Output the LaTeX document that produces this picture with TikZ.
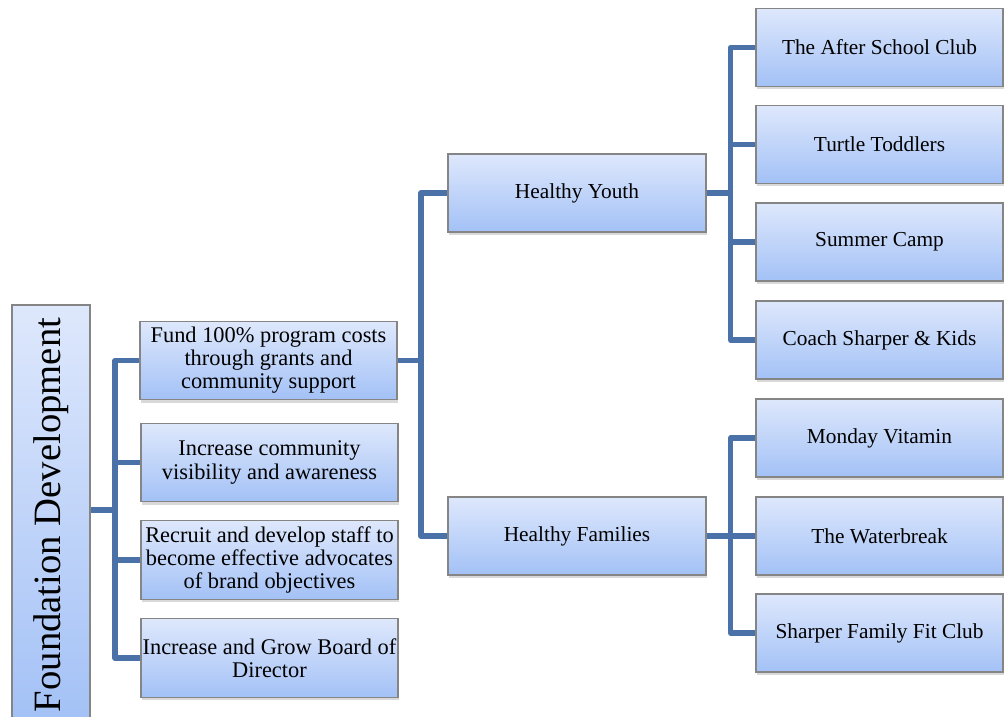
\documentclass[tikz,border=0pt]{standalone}
\usepackage{fontspec}
\setmainfont{Liberation Serif}
\usepackage{graphicx}
\usetikzlibrary{positioning, shadows}
\definecolor{linkblue}{HTML}{4A72A8}
\definecolor{boxtop}{HTML}{DEE8FC}
\definecolor{boxbottom}{HTML}{A3C1F6}
\definecolor{boxedge}{HTML}{858585}
\tikzset{
    box/.style={
        rectangle,
        draw=boxedge,
        line width=0.9pt,
        top color=boxtop,
        bottom color=boxbottom,
        drop shadow={shadow xshift=1pt, shadow yshift=-2.2pt, opacity=0.3},
        align=center,
        inner sep=0pt,
        font=\fontsize{16}{17.3}\selectfont
    },
    rootbox/.style={
        box,
        minimum width=58.5pt,
        minimum height=315pt,
        font=\fontsize{29}{30}\selectfont
    },
    goalbox/.style={
        box,
        minimum width=192.75pt,
        minimum height=59pt,
        font=\fontsize{16.8}{17.3}\selectfont
    },
    areabox/.style={
        box,
        minimum width=193.5pt,
        minimum height=58.5pt
    },
    programbox/.style={
        box,
        minimum width=185.25pt,
        minimum height=58.5pt
    },
    link/.style={
        line width=3.8pt,
        linkblue,
        line join=round
    }
}

\begin{document}
\begin{tikzpicture}[x=0.75pt, y=-0.75pt]

      \path[use as bounding box, clip] (0,0) rectangle (1006,717);

      % left column
      \node[rootbox] (root) at (51,515) {\rotatebox{90}{Foundation Development}};

      % goals
      \node[goalbox] (fund) at (268.5,360.5) {Fund 100\% program costs\\through grants and\\community support};
      \node[goalbox] (visibility) at (269.5,462.5) {Increase community\\visibility and awareness};
      \node[goalbox] (staff) at (269.5,560) {Recruit and develop staff to\\become effective advocates\\of brand objectives};
      \node[goalbox] (board) at (269.5,658) {Increase and Grow Board of\\Director};

      % focus areas
      \node[areabox] (youth) at (577,193) {Healthy Youth};
      \node[areabox] (families) at (577,536) {Healthy Families};

      % programs
      \node[programbox] (afterschool) at (879.5,47.5) {The After School Club};
      \node[programbox] (toddlers) at (879.5,144.5) {Turtle Toddlers};
      \node[programbox] (camp) at (879.5,242) {Summer Camp};
      \node[programbox] (coach) at (879.5,340) {Coach Sharper \& Kids};
      \node[programbox] (vitamin) at (879.5,438) {Monday Vitamin};
      \node[programbox] (waterbreak) at (879.5,536) {The Waterbreak};
      \node[programbox] (fitclub) at (879.5,633) {Sharper Family Fit Club};

      \coordinate (b1) at (115,510);
      \coordinate (b2) at (421,0);
      \coordinate (b3) at (730.5,0);

      \draw[link] (root.east |- b1) -- (b1) |- (fund.west);
      \draw[link] (b1) |- (visibility.west);
      \draw[link] (b1) |- (staff.west);
      \draw[link] (b1) |- (board.west);

      \draw[link] (fund.east) -- (fund.east -| b2) |- (youth.west);
      \draw[link] (fund.east -| b2) |- (families.west);

      \draw[link] (youth.east) -- (youth.east -| b3) |- (afterschool.west);
      \draw[link] (youth.east -| b3) |- (toddlers.west);
      \draw[link] (youth.east -| b3) |- (camp.west);
      \draw[link] (youth.east -| b3) |- (coach.west);

      \draw[link] (families.east) -- (families.east -| b3) |- (vitamin.west);
      \draw[link] (families.east -| b3) |- (waterbreak.west);
      \draw[link] (families.east -| b3) |- (fitclub.west);

    \end{tikzpicture}
\end{document}
